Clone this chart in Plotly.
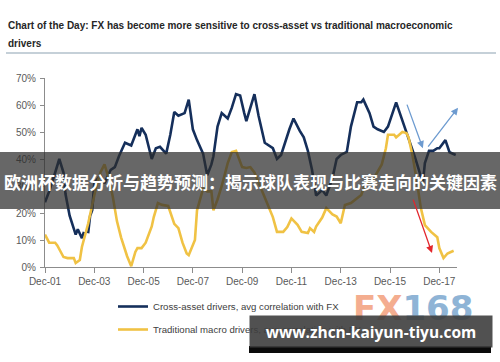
import plotly.graph_objects as go

# ---------------- data ----------------
cross_dates = ["2001-12", "2002-02", "2002-05", "2002-07", "2002-09", "2002-10", "2002-12",
               "2003-01", "2003-03", "2003-04", "2003-06", "2003-07", "2003-08", "2003-09",
               "2003-10", "2003-11", "2003-12", "2004-03", "2004-05", "2004-08", "2004-10",
               "2004-12", "2005-03", "2005-06", "2005-09", "2005-10", "2005-11", "2006-01",
               "2006-04", "2006-06", "2006-08", "2006-11", "2007-01", "2007-03", "2007-05",
               "2007-08", "2007-10", "2007-12", "2008-02", "2008-05", "2008-07", "2008-09",
               "2008-10", "2008-12", "2009-02", "2009-05", "2009-07", "2009-09", "2009-11",
               "2010-01", "2010-02", "2010-06", "2010-08", "2010-11", "2011-01", "2011-03",
               "2011-05", "2011-07", "2011-11", "2012-01", "2012-04", "2012-06", "2012-08",
               "2012-10", "2012-12", "2013-03", "2013-05", "2013-08", "2013-10", "2013-12",
               "2014-03", "2014-05", "2014-08", "2014-10", "2014-11", "2015-02", "2015-04",
               "2015-06", "2015-09", "2015-11", "2016-03", "2016-06", "2016-08", "2016-10",
               "2016-12", "2017-02", "2017-04", "2017-05", "2017-07", "2017-09", "2017-11",
               "2017-12", "2018-03", "2018-05", "2018-08"]
cross_vals = [24, 28, 35, 40, 35, 27, 19,
              16.5, 12, 14, 10.7, 13, None, 12.5,
              19, 21, 31, 34, 31, 36, 37,
              41, 46, 45, 51, 48.5, 51.5, 49,
              40, 44, 44.5, 42, 49, 57.4, 56,
              57, 62, 51, 47, 42, 34, 38,
              41, 52, 57, 55, 59, 64, 63.5,
              57, 54, 64, 56, 46, 45, 44,
              40, 41.5, 51, 55, 50.5, 48, 43,
              36, 26.5, 28.5, 26.5, 33, 40, 41.5,
              42.6, 52, 61, 61, 62, 57, 52,
              51, 50, 52, 61, 54.5, 50, 46,
              41, 36, 31, 38.5, 43, 43, 44,
              44, 47, 42.5, 41.5]

macro_dates = ["2001-12", "2002-02", "2002-05", "2002-06", "2002-09", "2002-11", "2003-02",
               "2003-03", "2003-05", "2003-06", "2003-09", "2003-11", "2004-01", "2004-03",
               "2004-05", "2004-07", "2004-09", "2004-11", "2005-01", "2005-04", "2005-06",
               "2005-08", "2005-09", "2005-11", "2006-01", "2006-04", "2006-05", "2006-07",
               "2006-09", "2006-12", "2007-02", "2007-03", "2007-05", "2007-07", "2007-09",
               "2007-10", "2008-01", "2008-02", "2008-05", "2008-07", "2008-09", "2008-10",
               "2008-12", "2009-02", "2009-05", "2009-07", "2009-09", "2009-11", "2009-12",
               "2010-02", "2010-04", "2010-06", "2010-09", "2010-12", "2011-03", "2011-05",
               "2011-07", "2011-08", "2011-10", "2011-12", "2012-03", "2012-05", "2012-08",
               "2012-09", "2012-11", "2012-12", "2013-03", "2013-05", "2013-08", "2013-10",
               "2013-12", "2014-02", "2014-05", "2014-07", "2014-10", "2014-12", "2015-03",
               "2015-05", "2015-08", "2015-10", "2015-11", "2016-02", "2016-03", "2016-06",
               "2016-08", "2016-09", "2016-11", "2017-01", "2017-03", "2017-05", "2017-08",
               "2017-11", "2017-12", "2018-02", "2018-04", "2018-07"]
macro_vals = [12, 9, 9, 8, 3.7, 3.3, 3.3,
              1.5, 2.6, 7.4, 16, 23.7, 30, 35,
              38, 33, 26, 17, 11, 4, 0.3,
              5.6, 7, 7, 9, 15, 18.5, 23.7,
              23, 22.6, 18, 16, 14.4, 9, 5,
              4.4, 10, 21, 29, 28, 28, 21,
              25, 30, 38.5, 42.6, 43, 39, 37,
              36.7, 37, 35, 29.6, 24, 18.5, 13,
              13, 13, 14.8, 18, 15.6, 13, 12.6,
              14.4, 13, 15, 18.3, 21.8, 19.5, 18.7,
              16.2, 23, 23.7, 25, 26.7, 31, 32,
              34, 38, 44, 49, 49, 48, 50,
              49.6, 48, 41, 32, 22, 15.5, 13,
              11, 7, 3.3, 5, 6]

tick_dates = ["2001-12-01", "2003-12-01", "2005-12-01", "2007-12-01", "2009-12-01",
              "2011-12-01", "2013-12-01", "2015-12-01", "2017-12-01"]
tick_labels = ["Dec-01", "Dec-03", "Dec-05", "Dec-07", "Dec-09",
               "Dec-11", "Dec-13", "Dec-15", "Dec-17"]
y_ticks = [0, 10, 20, 30, 40, 50, 60, 70]

series_names = ["Cross-asset drivers, avg correlation with FX",
                "Traditional macro drivers, avg correlation with FX"]
title_line1 = "Chart of the Day: FX has become more sensitive to cross-asset vs traditional macroeconomic"
title_line2 = "drivers"
banner_text = "欧洲杯数据分析与趋势预测：揭示球队表现与比赛走向的关键因素"
url_text = "www.zhcn-kaiyun-tiyu.com"

# arrows (data coordinates: start -> end)
arrows = [
    ("2016-08-01", 60.7, "2017-04-01", 44.0, "#6d9bd0"),
    ("2017-06-01", 44.0, "2018-09-05", 59.0, "#6d9bd0"),
    ("2016-11-01", 25.5, "2017-08-15", 5.2, "#e3262c"),
]

# ---------------- layout geometry ----------------
W, H = 500, 362
L, R, T, B = 45, 43, 78, 95
pw, ph = W - L - R, H - T - B


def px(x):
    return (x - L) / pw


def py(y):
    return (H - B - y) / ph


BLUE = "#152f5b"
GOLD = "#f0c244"
FONT = "Liberation Sans, Arial, sans-serif"

fig = go.Figure()
fig.add_trace(go.Scatter(x=cross_dates, y=cross_vals, mode="lines", name=series_names[0],
                         line=dict(color=BLUE, width=2.6), legendgroup="a",
                         connectgaps=False))
fig.add_trace(go.Scatter(x=macro_dates, y=macro_vals, mode="lines", name=series_names[1],
                         line=dict(color=GOLD, width=2.6), legendgroup="b"))

annotations = []
for (sx, sy, ex, ey, col) in arrows:
    annotations.append(dict(x=ex, y=ey, ax=sx, ay=sy, xref="x", yref="y", axref="x", ayref="y",
                            text="", showarrow=True, arrowhead=2, arrowsize=1.1,
                            arrowwidth=1.3, arrowcolor=col))

# title
annotations.append(dict(xref="paper", yref="paper", x=px(6), y=py(25.5), xanchor="left",
                        yanchor="middle", showarrow=False, text="<b>" + title_line1 + "</b>",
                        font=dict(family=FONT, size=10, color="#262626")))
annotations.append(dict(xref="paper", yref="paper", x=px(6), y=py(44), xanchor="left",
                        yanchor="middle", showarrow=False, text="<b>" + title_line2 + "</b>",
                        font=dict(family=FONT, size=10, color="#262626")))

# banner text
annotations.append(dict(xref="paper", yref="paper", x=px(250), y=py(181), xanchor="center",
                        yanchor="middle", showarrow=False, text="<b>" + banner_text + "</b>",
                        font=dict(family="Noto Sans CJK SC", size=17, color="white")))

# FX168 watermark
annotations.append(dict(xref="paper", yref="paper", x=px(413), y=py(308), xanchor="center",
                        yanchor="middle", showarrow=False,
                        text="<b><span style='color:#f4ad8f'>FX</span>"
                             "<span style='color:#8fb4d6'>168</span></b>",
                        font=dict(family="DejaVu Sans", size=34)))

# URL box
annotations.append(dict(xref="paper", yref="paper", x=px(249), y=py(315), xanchor="left",
                        yanchor="top", showarrow=False, text="<b>" + url_text + "</b>",
                        width=242, height=31, borderpad=0, align="center", valign="middle",
                        bgcolor="rgba(62,62,62,0.9)",
                        font=dict(family="Open Sans", size=15.5, color="white")))

shapes = [
    dict(type="line", xref="paper", yref="paper", x0=px(6), x1=px(496), y0=py(53), y1=py(53),
         line=dict(color="#c5d0d8", width=2)),
    dict(type="rect", xref="paper", yref="paper", x0=px(0), x1=px(500), y0=py(209), y1=py(152),
         fillcolor="rgba(45,45,45,0.72)", line=dict(width=0), layer="above"),
    dict(type="rect", xref="paper", yref="paper", x0=px(249), x1=px(491), y0=py(353), y1=py(346),
         fillcolor="#0a0a0a", line=dict(width=0), layer="above"),
]

fig.update_layout(
    width=W, height=H,
    margin=dict(l=L, r=R, t=T, b=B, pad=0, autoexpand=False),
    paper_bgcolor="white", plot_bgcolor="white",
    font=dict(family=FONT, size=10, color="#595959"),
    showlegend=True,
    legend=dict(x=px(113), y=py(292), xanchor="left", yanchor="top", orientation="v",
                bgcolor="rgba(0,0,0,0)", font=dict(family=FONT, size=9.6, color="#404040"),
                tracegroupgap=4, itemwidth=30),
    annotations=annotations,
    shapes=shapes,
)
fig.update_xaxes(type="date", range=["2001-12-01", "2018-08-20"], tickmode="array",
                 tickvals=tick_dates, ticktext=tick_labels, showgrid=False, zeroline=False,
                 showline=True, linecolor="#8c8c8c", linewidth=1, ticks="outside", ticklen=5,
                 tickcolor="#8c8c8c", tickfont=dict(size=10, color="#595959"), automargin=False)
fig.update_yaxes(range=[0, 70], tickmode="array", tickvals=y_ticks,
                 ticktext=[f"{v}%" for v in y_ticks], showgrid=False, zeroline=False,
                 showline=True, linecolor="#8c8c8c", linewidth=1, ticks="outside", ticklen=4,
                 tickcolor="#8c8c8c", tickfont=dict(size=10, color="#595959"), automargin=False,
                 ticklabelstandoff=2)

fig.write_html("out.html", config={"displayModeBar": False},
               post_script="document.body.style.margin='0px';")
